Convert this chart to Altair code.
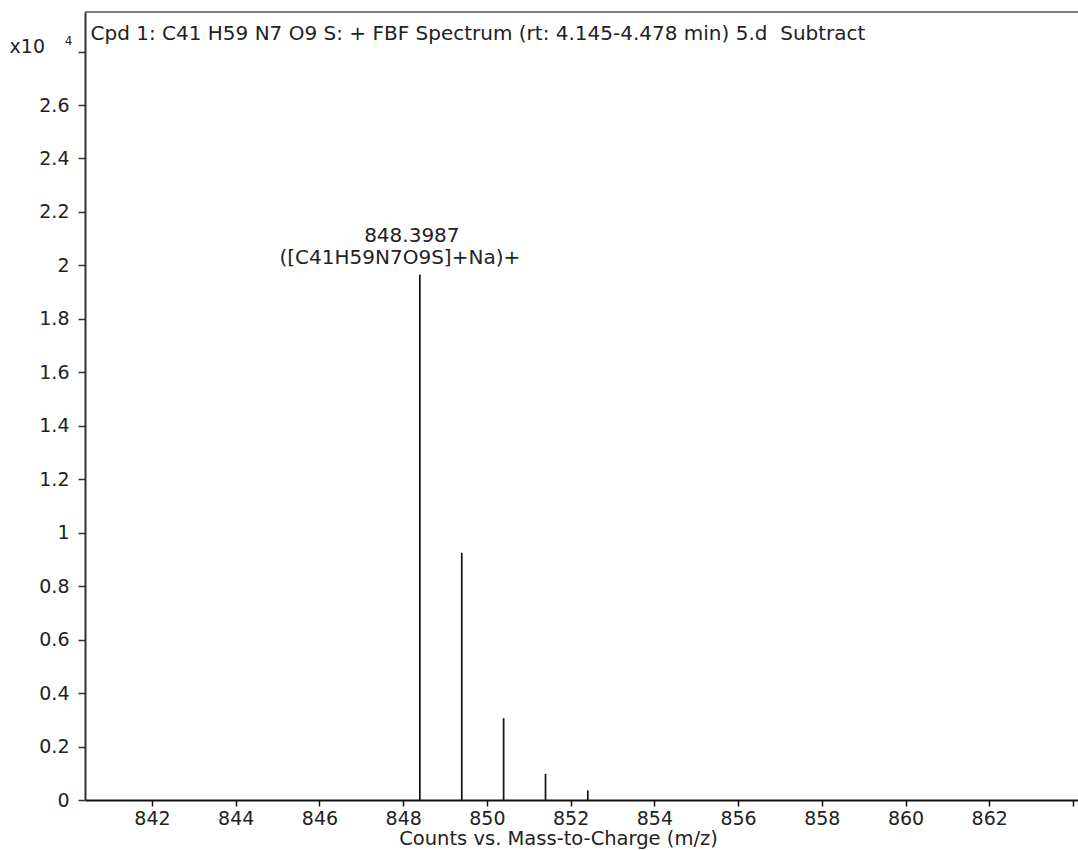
import altair as alt
import pandas as pd

# peak positions (m/z) and heights (counts, x10^4)
mz = [848.3987, 849.40, 850.40, 851.40, 852.41]
counts = [1.966, 0.925, 0.306, 0.098, 0.036]

x_ticks = [842, 844, 846, 848, 850, 852, 854, 856, 858, 860, 862, 864]
y_ticks = [0, 0.2, 0.4, 0.6, 0.8, 1.0, 1.2, 1.4, 1.6, 1.8, 2.0, 2.2, 2.4, 2.6, 2.8]

title_text = "Cpd 1: C41 H59 N7 O9 S: + FBF Spectrum (rt: 4.145-4.478 min) 5.d\u00a0 Subtract"
ann_mz = 848.3987
ann_line1 = "848.3987"
ann_line2 = "([C41H59N7O9S]+Na)+"

FONT = "DejaVu Sans"
FS = 19
FT = 20
TXT = "#222222"
W = 993
H = 788

df = pd.DataFrame({"mz": mz, "counts": counts, "zero": [0] * len(mz)})
ann = pd.DataFrame({"mz": [ann_mz, ann_mz], "counts": [counts[0], counts[0]],
                    "label": [ann_line1, ann_line2], "line": [1, 2]})

xscale = alt.Scale(domain=[840.40, 864.12], nice=False, zero=False)
yscale = alt.Scale(domain=[0, 2.948], nice=False)

xaxis = alt.Axis(values=x_ticks, labelExpr="datum.value == 864 ? '' : datum.label",
                 title="Counts vs. Mass-to-Charge (m/z)", grid=False,
                 domainColor="#111111", domainWidth=2, tickColor="#111111", tickWidth=1.5,
                 tickSize=6, labelPadding=3, labelFont=FONT, labelFontSize=FS, labelColor=TXT,
                 titleFont=FONT, titleFontSize=19.5, titleColor=TXT, titleFontWeight="normal",
                 titleX=473, titleY=44.5, titleBaseline="alphabetic", titleAnchor="start",
                 titleAlign="center")
yaxis = alt.Axis(values=y_ticks, labelExpr="datum.value > 2.7 ? '' : format(datum.value, '.1~f')",
                 title=None, grid=False,
                 domainColor="#333333", domainWidth=2, tickColor="#333333", tickWidth=1.5,
                 tickSize=7, labelPadding=9, labelFont=FONT, labelFontSize=FS, labelColor=TXT)

peaks = alt.Chart(df).mark_rule(color="#111111", strokeWidth=1.7).encode(
    x=alt.X("mz:Q", scale=xscale, axis=xaxis),
    y=alt.Y("counts:Q", scale=yscale, axis=yaxis),
    y2="zero:Q",
)

ann1 = alt.Chart(ann[ann.line == 1]).mark_text(
    font=FONT, fontSize=FT, color=TXT, align="center", baseline="alphabetic", dx=-8, dy=-32
).encode(x=alt.X("mz:Q", scale=xscale), y=alt.Y("counts:Q", scale=yscale), text="label:N")
ann2 = alt.Chart(ann[ann.line == 2]).mark_text(
    font=FONT, fontSize=FT, color=TXT, align="center", baseline="alphabetic", dx=-20, dy=-10
).encode(x=alt.X("mz:Q", scale=xscale), y=alt.Y("counts:Q", scale=yscale), text="label:N")

title = alt.Chart(pd.DataFrame({"t": [title_text]})).mark_text(
    font=FONT, fontSize=FT, color=TXT, align="left", baseline="alphabetic"
).encode(x=alt.value(5.5), y=alt.value(27.6), text="t:N")

exp_base = alt.Chart(pd.DataFrame({"t": ["x10"]})).mark_text(
    font=FONT, fontSize=FS, color=TXT, align="right", baseline="alphabetic"
).encode(x=alt.value(-40), y=alt.value(41), text="t:N")
exp_sup = alt.Chart(pd.DataFrame({"t": ["4"]})).mark_text(
    font=FONT, fontSize=12, color=TXT, align="right", baseline="alphabetic"
).encode(x=alt.value(-12.5), y=alt.value(32.5), text="t:N")

top_border = alt.Chart(pd.DataFrame({"a": [0]})).mark_rule(color="#555555", strokeWidth=1.5).encode(
    x=alt.value(0), x2=alt.value(W + 5), y=alt.value(0)
)

chart = alt.layer(peaks, ann1, ann2, title, exp_base, exp_sup, top_border).properties(
    width=W, height=H,
    autosize=alt.AutoSizeParams(type="none"),
    padding={"left": 85, "top": 12, "right": 0, "bottom": 50},
    background="white",
).configure_view(stroke=None)

chart.save("out.html", embed_options={"renderer": "svg", "actions": False})
